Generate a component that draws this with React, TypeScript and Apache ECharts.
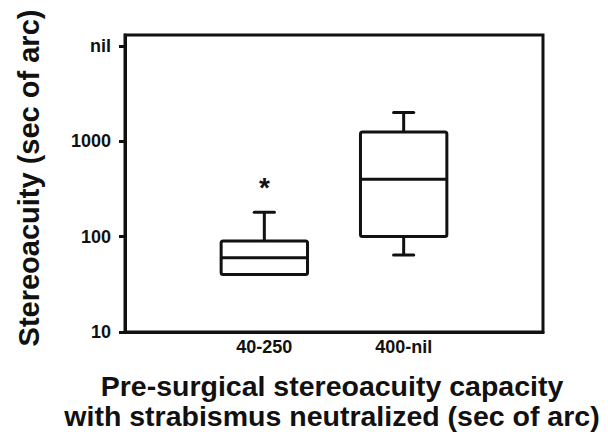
import React, { useEffect, useRef } from "react";
import * as echarts from "echarts";

const categories = ["", "40-250", "400-nil", ""];
// [categoryIndex, min, Q1, median, Q3, max]
const boxData = [
  [1, 40, 40, 60, 90, 180],
  [2, 64, 100, 400, 1250, 2000],
];
const outliers = [[1, 360]];
const yTickLabels: Record<number, string> = { 10: "10", 100: "100", 1000: "1000", 10000: "nil" };

const FONT = "'Liberation Sans', Arial, Helvetica, sans-serif";

export default function App() {
  const ref = useRef<HTMLDivElement>(null);
  useEffect(() => {
    if (!ref.current) return;
    const chart = echarts.init(ref.current, undefined, { renderer: "svg" });
    const lw = 3;
    chart.setOption({
      animation: false,
      backgroundColor: "#fff",
      grid: {
        left: 125,
        right: 65,
        top: 35,
        bottom: 100,
        show: true,
        borderColor: "#111",
        borderWidth: lw,
        backgroundColor: "transparent",
      },
      xAxis: {
        type: "category",
        data: categories,
        boundaryGap: false,
        axisLine: { lineStyle: { color: "#111", width: lw } },
        axisTick: { show: false },
        splitLine: { show: false },
        axisLabel: {
          color: "#111",
          fontFamily: FONT,
          fontWeight: "bold",
          fontSize: 18,
          margin: 6,
          interval: 0,
        },
      },
      yAxis: {
        type: "log",
        logBase: 10,
        min: 10,
        max: 13000,
        axisLine: { show: true, lineStyle: { color: "#111", width: lw } },
        axisTick: { show: true, length: 6, lineStyle: { color: "#111", width: lw } },
        splitLine: { show: false },
        minorTick: { show: false },
        axisLabel: {
          color: "#111",
          fontFamily: FONT,
          fontWeight: "bold",
          fontSize: 18,
          margin: 14,
          showMaxLabel: false,
          formatter: (v: number) => yTickLabels[Math.round(v)] ?? "",
        },
      },
      graphic: [
        {
          type: "text",
          x: 29,
          y: 178,
          rotation: Math.PI / 2,
          style: {
            text: "Stereoacuity (sec of arc)",
            fontFamily: FONT,
            fontWeight: "bold",
            fontSize: 29,
            fill: "#111",
            align: "center",
            verticalAlign: "middle",
          },
        },
        {
          type: "text",
          x: 332,
          y: 386,
          style: {
            text: "Pre-surgical stereoacuity capacity",
            fontFamily: FONT,
            fontWeight: "bold",
            fontSize: 28.5,
            fill: "#111",
            align: "center",
            verticalAlign: "middle",
          },
        },
        {
          type: "text",
          x: 332,
          y: 416,
          style: {
            text: "with strabismus neutralized (sec of arc)",
            fontFamily: FONT,
            fontWeight: "bold",
            fontSize: 28.5,
            fill: "#111",
            align: "center",
            verticalAlign: "middle",
          },
        },
      ],
      series: [
        {
          type: "custom",
          data: boxData,
          renderItem: (params: any, api: any) => {
            const x = api.value(0);
            const mn = api.value(1);
            const q1 = api.value(2);
            const md = api.value(3);
            const q3 = api.value(4);
            const mx = api.value(5);
            const band = api.coord([2, 100])[0] - api.coord([1, 100])[0];
            const bw = band * 0.62;
            const cw = band * 0.145;
            const pMin = api.coord([x, mn]);
            const pQ1 = api.coord([x, q1]);
            const pMd = api.coord([x, md]);
            const pQ3 = api.coord([x, q3]);
            const pMax = api.coord([x, mx]);
            const cx = pMd[0];
            const st = { stroke: "#111", lineWidth: lw, fill: "none", lineJoin: "round", lineCap: "butt" };
            const children: any[] = [
              {
                type: "rect",
                shape: { x: cx - bw / 2, y: pQ3[1], width: bw, height: pQ1[1] - pQ3[1], r: 2 },
                style: { ...st, fill: "transparent" },
              },
              {
                type: "line",
                shape: { x1: cx - bw / 2, y1: pMd[1], x2: cx + bw / 2, y2: pMd[1] },
                style: st,
              },
            ];
            if (mx > q3) {
              children.push(
                { type: "line", shape: { x1: cx, y1: pQ3[1], x2: cx, y2: pMax[1] }, style: st },
                { type: "line", shape: { x1: cx - cw / 2, y1: pMax[1], x2: cx + cw / 2, y2: pMax[1] }, style: { ...st, lineCap: "round" } }
              );
            }
            if (mn < q1) {
              children.push(
                { type: "line", shape: { x1: cx, y1: pQ1[1], x2: cx, y2: pMin[1] }, style: st },
                { type: "line", shape: { x1: cx - cw / 2, y1: pMin[1], x2: cx + cw / 2, y2: pMin[1] }, style: { ...st, lineCap: "round" } }
              );
            }
            return { type: "group", children };
          },
        },
        {
          type: "custom",
          data: outliers,
          renderItem: (params: any, api: any) => {
            const p = api.coord([api.value(0), api.value(1)]);
            return {
              type: "text",
              x: p[0],
              y: p[1] + 4,
              style: {
                text: "*",
                fontFamily: FONT,
                fontWeight: "bold",
                fontSize: 28,
                fill: "#111",
                align: "center",
                verticalAlign: "middle",
              },
            };
          },
        },
      ],
    });
    return () => chart.dispose();
  }, []);
  return <div ref={ref} style={{ width: 608, height: 432, position: "absolute", left: 0, top: 0 }} />;
}
